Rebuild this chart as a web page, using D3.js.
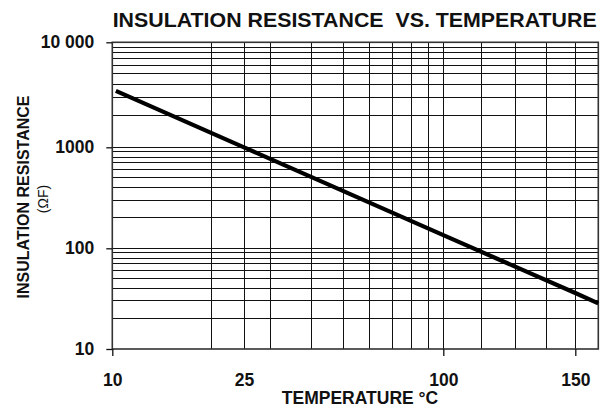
<!DOCTYPE html>
<html>
<head>
<meta charset="utf-8">
<script src="https://cdn.jsdelivr.net/npm/d3@7"></script>
<style>
  body { margin: 0; background: #fff; }
  text { font-family: "Liberation Sans", Arial, sans-serif; }
</style>
</head>
<body>
<div id="chart"></div>
<script>
// curve
const temps = [10.25, 25, 100, 150, 162.5];
const resistance = [3450, 1000, 135, 36, 28.4];

// grid / tick values
const xGrid = [20, 25, 30, 40, 50, 60, 70, 80, 90, 100, 112.5, 125, 137.5, 150];
const yGrid = [20, 30, 40, 50, 60, 70, 80, 90, 100,
    200, 300, 400, 500, 600, 700, 800, 900, 1000,
    2000, 3000, 4000, 5000, 6000, 7000, 8000, 9000];
const xTickLabels = [10, 25, 100, 150];
const xTickMarks = [10, 100, 150];
const yTicks = [10, 100, 1000, 10000];

const width = 608, height = 408;

const svg = d3.select("#chart")
    .append("svg")
    .attr("width", width)
    .attr("height", height);

// the temperature axis is log up to 100 and stretched above it
const x = d3.scaleLog()
    .domain([10, 100, 150, 162.5])
    .range([112.3, 443.3, 575.3, 598.3]);

const y = d3.scaleLog()
    .domain([10, 100, 1000, 10000])
    .range([349, 248.3, 147.3, 42.3]);

const grid = svg.append("g")
    .attr("stroke", "#111")
    .attr("stroke-width", 1)
    .attr("shape-rendering", "crispEdges");

grid.selectAll(".hg")
    .data(yGrid)
    .join("line")
    .attr("class", "hg")
    .attr("x1", x(10)).attr("x2", x(162.5))
    .attr("y1", d => y(d)).attr("y2", d => y(d));

grid.selectAll(".vg")
    .data(xGrid)
    .join("line")
    .attr("class", "vg")
    .attr("x1", d => x(d)).attr("x2", d => x(d))
    .attr("y1", y(10000)).attr("y2", y(10));

// frame
svg.append("rect")
    .attr("x", x(10))
    .attr("y", y(10000))
    .attr("width", x(162.5) - x(10))
    .attr("height", y(10) - y(10000))
    .attr("fill", "none")
    .attr("stroke", "#333")
    .attr("stroke-width", 1.6);

// left axis
const yAxis = svg.append("g")
    .attr("transform", `translate(${x(10)},0)`)
    .call(d3.axisLeft(y)
        .tickValues(yTicks)
        .tickSize(6)
        .tickPadding(12)
        .tickFormat(d => d === 10000 ? "10 000" : d));
yAxis.select(".domain").remove();
yAxis.selectAll("line").attr("stroke", "#111").attr("stroke-width", 1.3);
yAxis.selectAll("text")
    .attr("fill", "#111")
    .style("font-size", "17.5px")
    .style("font-weight", "bold");

// bottom axis
const xAxis = svg.append("g")
    .attr("transform", `translate(0,${y(10)})`)
    .call(d3.axisBottom(x)
        .tickValues(xTickLabels)
        .tickSize(7)
        .tickPadding(18)
        .tickFormat(d => d));
xAxis.select(".domain").remove();
xAxis.selectAll(".tick line")
    .attr("stroke", "#111")
    .attr("stroke-width", 1.3)
    .attr("display", d => xTickMarks.includes(d) ? null : "none");
xAxis.selectAll("text")
    .attr("fill", "#111")
    .style("font-size", "17.5px")
    .style("font-weight", "bold");

// curve
const pts = temps.map((t, i) => [t, resistance[i]]);
svg.append("path")
    .datum(pts)
    .attr("fill", "none")
    .attr("stroke", "#000")
    .attr("stroke-width", 4.2)
    .attr("d", d3.line().x(d => x(d[0])).y(d => y(d[1])));

// titles
svg.append("text")
    .attr("x", 112.7)
    .attr("y", 26.7)
    .attr("textLength", 484)
    .attr("lengthAdjust", "spacingAndGlyphs")
    .style("font-size", "20px")
    .style("font-weight", "bold")
    .attr("fill", "#111")
    .text("INSULATION RESISTANCE  VS. TEMPERATURE")
    .attr("xml:space", "preserve");

svg.append("text")
    .attr("x", 360)
    .attr("y", 403.5)
    .attr("text-anchor", "middle")
    .style("font-size", "17.5px")
    .style("font-weight", "bold")
    .attr("fill", "#111")
    .text("TEMPERATURE °C");

svg.append("text")
    .attr("transform", "translate(29,197) rotate(-90)")
    .attr("text-anchor", "middle")
    .style("font-size", "16px")
    .style("font-weight", "bold")
    .attr("fill", "#111")
    .text("INSULATION RESISTANCE");

svg.append("text")
    .attr("transform", "translate(48,199) rotate(-90)")
    .attr("text-anchor", "middle")
    .style("font-size", "14px")
    .attr("fill", "#111")
    .text("(ΩF)");
</script>
</body>
</html>
